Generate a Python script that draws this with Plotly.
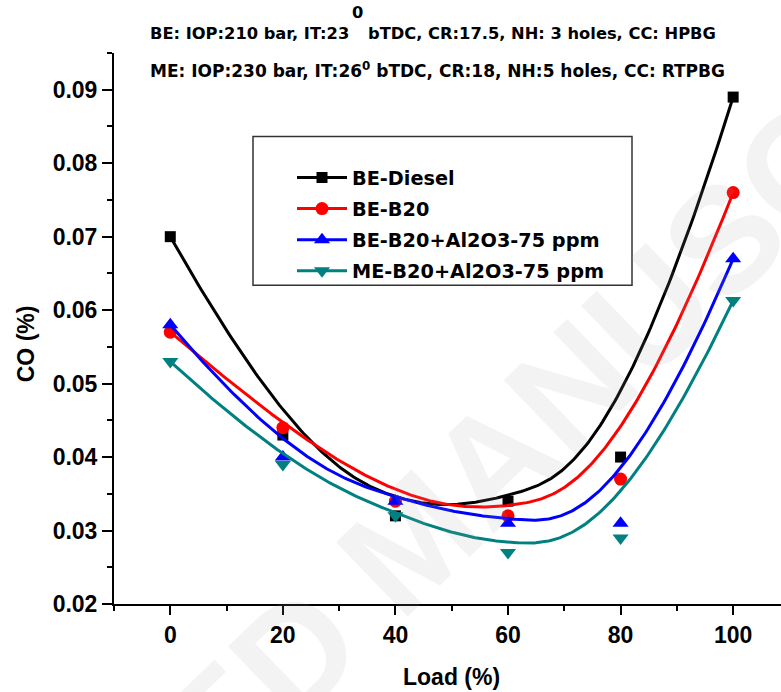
import numpy as np
import plotly.graph_objects as go

# ---------------- data ----------------
load = [0, 20, 40, 60, 80, 100]
be_diesel = [0.070, 0.043, 0.032, 0.034, 0.040, 0.089]
be_b20 = [0.057, 0.044, 0.034, 0.032, 0.037, 0.076]
be_b20_al = [0.058, 0.040, 0.034, 0.031, 0.031, 0.067]
me_b20_al = [0.053, 0.039, 0.032, 0.027, 0.029, 0.0613]

series_names = ["BE-Diesel", "BE-B20", "BE-B20+Al2O3-75 ppm", "ME-B20+Al2O3-75 ppm"]
series_values = [be_diesel, be_b20, be_b20_al, me_b20_al]
colors = ["#000000", "#ff0000", "#0000ff", "#008080"]
symbols = ["square", "circle", "triangle-up", "triangle-down"]
msizes = [11, 13, 14, 14]

x_ticks = [0, 20, 40, 60, 80, 100]
y_ticks = [0.02, 0.03, 0.04, 0.05, 0.06, 0.07, 0.08, 0.09]

header1_left = "BE: IOP:210 bar, IT:23"
header1_sup = "0"
header1_right = "bTDC, CR:17.5, NH: 3 holes, CC: HPBG"
header2 = "ME: IOP:230 bar, IT:26<sup>0</sup> bTDC, CR:18, NH:5 holes, CC: RTPBG"


# clamped cubic B-spline with the data points as control points (Origin "B-Spline")
def bspline(px, py, n=300):
    px = np.asarray(px, float)
    py = np.asarray(py, float)
    k = 3
    m = len(px)
    knots = np.array([0] * (k + 1) + list(range(1, m - k)) + [m - k] * (k + 1), float)
    u = np.linspace(0, m - k, n)

    def basis(i, p, uu):
        if p == 0:
            last = (knots[i + 1] == knots[-1]) & (knots[i] < knots[i + 1])
            b = ((uu >= knots[i]) & (uu < knots[i + 1])).astype(float)
            if last:
                b[uu == knots[-1]] = 1.0
            return b
        out = np.zeros_like(uu)
        d1 = knots[i + p] - knots[i]
        if d1 > 0:
            out += (uu - knots[i]) / d1 * basis(i, p - 1, uu)
        d2 = knots[i + p + 1] - knots[i + 1]
        if d2 > 0:
            out += (knots[i + p + 1] - uu) / d2 * basis(i + 1, p - 1, uu)
        return out

    B = np.array([basis(i, k, u) for i in range(m)])
    return B.T @ px, B.T @ py


# ---------------- geometry (pixels) ----------------
W, H = 781, 692
L, R, T, Bm = 114, 0, 52.5, 88
pw, ph = W - L - R, H - T - Bm


def px_x(p):
    return (p - L) / pw


def px_y(p):
    return (H - Bm - p) / ph


fig = go.Figure()

for name, vals, c, s, ms in zip(series_names, series_values, colors, symbols, msizes):
    cx, cy = bspline(load, vals)
    fig.add_trace(go.Scatter(x=cx, y=cy, mode="lines", line=dict(color=c, width=3),
                             showlegend=False, legendgroup=name, hoverinfo="skip"))
    fig.add_trace(go.Scatter(x=load, y=vals, mode="markers",
                             marker=dict(symbol=s, size=ms, color=c, line=dict(width=0)),
                             showlegend=False, legendgroup=name, name=name))
    fig.add_trace(go.Scatter(x=[None], y=[None], mode="lines+markers", name=name,
                             legendgroup=name,
                             line=dict(color=c, width=3),
                             marker=dict(symbol=s, size=ms, color=c, line=dict(width=0))))

tickfont = dict(family="Liberation Sans, Arial", size=23, color="black", weight="bold")

fig.update_xaxes(range=[-10, 108.5], tickvals=x_ticks, showline=True, linewidth=2,
                 linecolor="black", ticks="outside", ticklen=9, tickwidth=2, tickcolor="black",
                 minor=dict(dtick=10, tick0=0, ticks="outside", ticklen=5, tickwidth=2,
                            tickcolor="black"),
                 showgrid=False, zeroline=False, tickfont=tickfont, fixedrange=True)
fig.update_yaxes(range=[0.02, 0.095], tickvals=y_ticks, tickformat=".2f", showline=True,
                 linewidth=2, linecolor="black", ticks="outside", ticklen=10, tickwidth=2,
                 tickcolor="black",
                 minor=dict(dtick=0.005, tick0=0.02, ticks="outside", ticklen=5, tickwidth=2,
                            tickcolor="black"),
                 showgrid=False, zeroline=False, tickfont=tickfont, fixedrange=True)

annos = []
# watermark (drawn first so it sits under the other texts)
annos.append(dict(text="ACCEPTED MANUSCRIPT", x=px_x(412), y=px_y(540), xref="paper",
                  yref="paper", showarrow=False, textangle=-44,
                  font=dict(family="Liberation Sans", size=150, color="rgba(160,160,160,0.13)",
                            weight="bold"),
                  xanchor="center", yanchor="middle"))
titlefont = dict(family="Liberation Sans, Arial", size=23, color="black", weight="bold")
annos.append(dict(text="Load (%)", x=px_x(451), y=px_y(677), xref="paper", yref="paper",
                  showarrow=False, font=titlefont, xanchor="center", yanchor="middle"))
annos.append(dict(text="CO (%)", x=px_x(26), y=px_y(344), xref="paper", yref="paper",
                  showarrow=False, font=titlefont, textangle=-90,
                  xanchor="center", yanchor="middle"))
hfont1 = dict(family="DejaVu Sans", size=16.3, color="black", weight="bold")
hfont = dict(family="DejaVu Sans", size=17, color="black", weight="bold")
annos.append(dict(text=header1_left, x=px_x(148), y=px_y(33), xref="paper", yref="paper",
                  showarrow=False, font=hfont1, xanchor="left", yanchor="middle"))
annos.append(dict(text=header1_sup, x=px_x(357), y=px_y(12), xref="paper", yref="paper",
                  showarrow=False, font=hfont1, xanchor="center", yanchor="middle"))
annos.append(dict(text=header1_right, x=px_x(718), y=px_y(33), xref="paper", yref="paper",
                  showarrow=False, font=hfont1, xanchor="right", yanchor="middle"))
annos.append(dict(text=header2, x=px_x(148), y=px_y(70), xref="paper", yref="paper",
                  showarrow=False, font=hfont, xanchor="left", yanchor="middle"))

fig.update_layout(
    width=W, height=H,
    margin=dict(l=L, r=R, t=T, b=Bm, autoexpand=False),
    paper_bgcolor="white", plot_bgcolor="white",
    annotations=annos,
    shapes=[dict(type="rect", xref="paper", yref="paper",
                 x0=px_x(253), x1=px_x(632), y0=px_y(285), y1=px_y(136),
                 line=dict(color="#333333", width=1.5), fillcolor="rgba(0,0,0,0)")],
    legend=dict(x=px_x(292), y=px_y(158), xanchor="left", yanchor="top",
                bgcolor="rgba(0,0,0,0)", borderwidth=0, tracegroupgap=3,
                font=dict(family="DejaVu Sans", size=19.3, color="black", weight="bold"),
                itemwidth=50),
    showlegend=True,
)

fig.write_html("out.html")
